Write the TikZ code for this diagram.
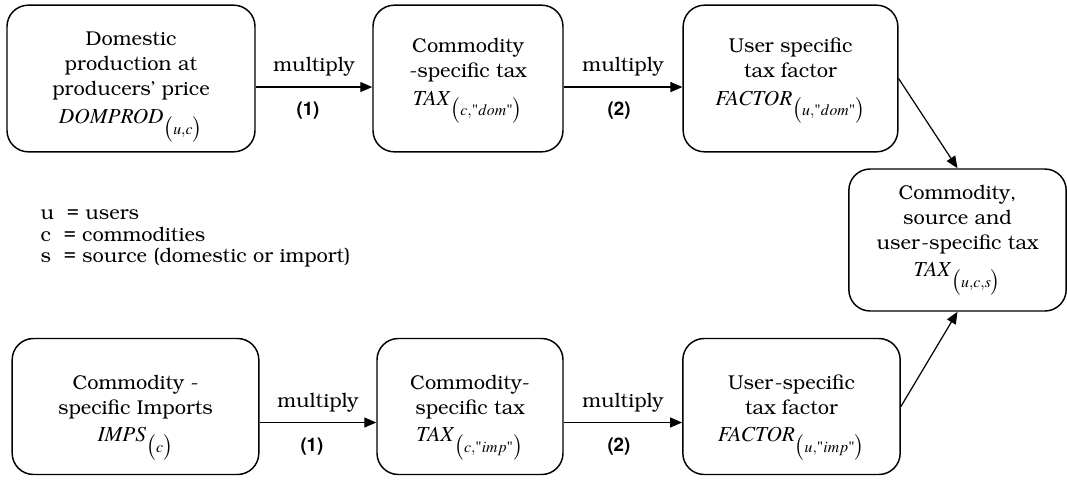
\documentclass[tikz,border=0pt]{standalone}
\usepackage[T1]{fontenc}
\usepackage{amsmath}
\usepackage{mathptmx}
\usepackage{bookman}
\usetikzlibrary{arrows.meta}

\newcommand{\dq}{\text{\fontfamily{ptm}\selectfont\textquotedbl}}
\newcommand{\eqline}[1]{\\[2pt]{\fontsize{16}{20}\selectfont$#1$}}
\newcommand{\pad}[1]{\rule{0pt}{#1}}

\begin{document}
\begin{tikzpicture}[x=0.75pt, y=-0.75pt, >={Triangle[length=9pt, width=7.5pt]}, line width=0.9pt]
    \tikzset{
        block/.style={draw, line width=1.1pt, rounded corners=16pt, align=center, inner sep=0pt,
            font=\fontsize{15}{18.75}\selectfont},
        lbl/.style={font=\fontsize{15}{17}\selectfont},
        tag/.style={font=\fontfamily{phv}\fontsize{14}{16}\selectfont\bfseries}
    };
    \useasboundingbox (0,0) rectangle (1067,479);
    % domestic row
    \node[block, minimum width=186pt, minimum height=110pt] (dprod) at (131, 78.5)
        {\pad{23pt}Domestic\\production at\\producers' price\eqline{\mathit{DOMPROD}_{\bigl(u,c\bigr)}}};
    \node[block, minimum width=142.5pt, minimum height=110pt] (dtax) at (468, 78.5)
        {\pad{14pt}Commodity\\-specific tax\eqline{\mathit{TAX}_{\bigl(c,\dq dom\dq\bigr)}}};
    \node[block, minimum width=161pt, minimum height=110pt] (dfac) at (790.5, 78.5)
        {\pad{14pt}User specific\\tax factor\eqline{\mathit{FACTOR}_{\bigl(u,\dq dom\dq\bigr)}}};
    % result
    \node[block, minimum width=163pt, minimum height=106.5pt] (total) at (957.5, 240)
        {Commodity,\\source and\\user-specific tax\eqline{\mathit{TAX}_{\bigl(u,c,s\bigr)}}};
    % import row
    \node[block, minimum width=185pt, minimum height=102pt] (imps) at (135.5, 406.5)
        {\pad{27pt}Commodity -\\specific Imports\eqline{\mathit{IMPS}_{\bigl(c\bigr)}}};
    \node[block, minimum width=139.5pt, minimum height=102pt] (itax) at (470, 406.5)
        {\pad{27pt}Commodity-\\specific tax\eqline{\mathit{TAX}_{\bigl(c,\dq imp\dq\bigr)}}};
    \node[block, minimum width=163pt, minimum height=102pt] (ifac) at (791.5, 406.5)
        {\pad{27pt}User-specific\\tax factor\eqline{\mathit{FACTOR}_{\bigl(u,\dq imp\dq\bigr)}}};
    % legend
    \node[lbl, anchor=north west, align=left, inner sep=0pt, font=\fontsize{15}{16.2}\selectfont] (legend) at (40, 209)
        {u\ \ = users\\c\ \ = commodities\\s\ \ = source (domestic or import)};
    \path[->]
        ([yshift=-6.4pt]dprod.east) edge
            node[lbl, midway, yshift=15pt] {multiply}
            node[tag, midway, yshift=-18pt, xshift=-4.5pt] {(1)} ([yshift=-6.4pt]dtax.west)
        ([yshift=-6.4pt]dtax.east) edge
            node[lbl, midway, yshift=15pt] {multiply}
            node[tag, midway, yshift=-18pt, xshift=-3pt] {(2)} ([yshift=-6.4pt]dfac.west)
        ([yshift=-12pt]imps.east) edge
            node[lbl, midway, yshift=15pt] {multiply}
            node[tag, midway, yshift=-18pt, xshift=-4.5pt] {(1)} ([yshift=-12pt]itax.west)
        ([yshift=-12pt]itax.east) edge
            node[lbl, midway, yshift=15pt] {multiply}
            node[tag, midway, yshift=-18pt, xshift=-3pt] {(2)} ([yshift=-12pt]ifac.west)
        (dfac.east) edge (total.north)
        (ifac.east) edge (total.south)
    ;
\end{tikzpicture}
\end{document}
